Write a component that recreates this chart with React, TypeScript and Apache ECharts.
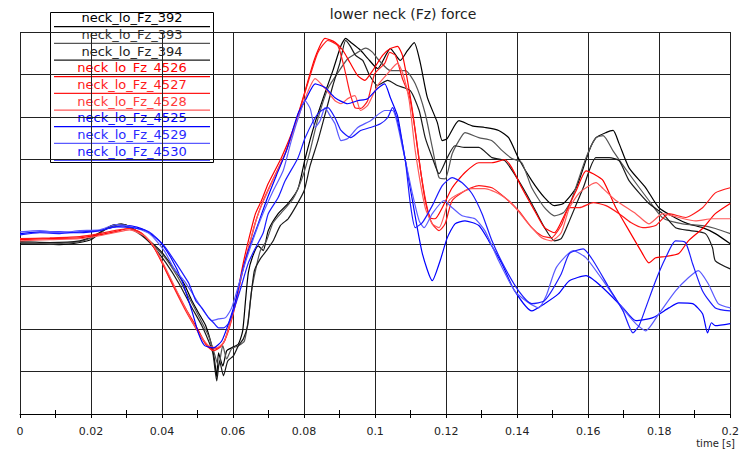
import React, { useEffect, useRef } from "react";
import * as echarts from "echarts";

// time in ms, lower neck Fz in kN
const neck392: [number, number][] = [
  [0, 0.01], [5.6, 0.01], [11.2, -0.01], [16.8, 0.04], [20.1, 0.11], [22.9, 0.29], [26.6, 0.46], [29.4, 0.46],
  [32.2, 0.34], [36.4, 0.08], [40.0, -0.2], [43.4, -0.58], [46.2, -0.93], [48.4, -1.33], [50.3, -1.62],
  [52.3, -1.92], [54.0, -2.39], [54.8, -2.75], [55.4, -3.12], [55.9, -2.56], [57.1, -2.87], [58.2, -2.51],
  [59.6, -2.44], [61.5, -2.35], [62.7, -2.04], [63.5, -1.33], [64.3, -0.67], [65.5, -0.29], [67.1, -0.04],
  [68.5, -0.15], [69.9, 0.32], [72.7, 0.72], [75.5, 0.96], [78.3, 1.31], [80.3, 2.02], [83.1, 2.87],
  [85.9, 3.57], [88.1, 4.09], [90.4, 4.68], [91.7, 4.85], [93.1, 4.76], [95.9, 4.57], [97.9, 4.38],
  [100.7, 4.14], [104.3, 4.61], [107.1, 4.33], [109.1, 4.56], [111.0, 4.75], [112.7, 4.28], [114.7, 3.46],
  [117.5, 2.87], [118.9, 2.44], [120.3, 2.49], [123.6, 2.91], [127.3, 2.79], [130.9, 2.75], [134.8, 2.68],
  [137.6, 2.51], [140.4, 2.02], [144.1, 1.5], [147.7, 1.1], [150.5, 0.91], [153.0, 0.96], [156.6, 1.33],
  [160.3, 2.21], [162.2, 2.51], [165.0, 2.63], [167.0, 2.68], [168.7, 2.37], [171.5, 1.8], [176.2, 1.33],
  [179.9, 0.86], [184.6, 0.62], [188.2, 0.48], [192.2, 0.39], [195.8, 0.25], [200.0, 0.01],
];

const neck393: [number, number][] = [
  [0, 0.04], [8.4, 0.01], [16.8, 0.06], [21.0, 0.18], [24.6, 0.37], [28.0, 0.46], [32.2, 0.32], [36.4, 0.06],
  [40.6, -0.29], [44.2, -0.74], [47.6, -1.26], [50.3, -1.69], [53.1, -2.16], [54.5, -2.51], [55.9, -2.87],
  [57.1, -2.39], [58.2, -2.7], [59.6, -2.46], [61.5, -2.39], [63.2, -2.28], [64.3, -1.76], [65.2, -1.1],
  [66.6, -0.51], [67.7, -0.15], [69.4, 0.08], [71.3, 0.51], [74.1, 0.79], [76.9, 1.07], [79.7, 1.62],
  [81.7, 2.2], [83.9, 2.96], [86.7, 3.67], [89.5, 4.04], [92.3, 4.37], [95.1, 4.52], [97.3, 4.62],
  [99.3, 4.52], [100.7, 4.37], [104.3, 4.09], [108.5, 4.09], [111.3, 3.78], [114.1, 3.08], [116.1, 2.28],
  [118.0, 1.57], [119.7, 1.54], [121.7, 2.13], [123.6, 2.44], [125.3, 2.63], [129.2, 2.51], [132.9, 2.44],
  [135.7, 2.21], [138.5, 2.02], [141.3, 1.92], [144.1, 1.33], [147.7, 0.86], [150.5, 0.67], [153.0, 0.74],
  [155.2, 1.03], [159.4, 2.04], [162.2, 2.51], [164.2, 2.56], [167.0, 2.2], [171.5, 1.66], [177.1, 1.03],
  [181.0, 0.62], [186.6, 0.48], [192.2, 0.44], [195.8, 0.37], [200.0, 0.25],
];

const neck394: [number, number][] = [
  [0, 0.06], [8.4, 0.04], [16.8, 0.08], [21.3, 0.22], [25.2, 0.41], [28.5, 0.48], [32.7, 0.32], [36.9, 0.01],
  [41.1, -0.44], [44.8, -0.93], [48.1, -1.45], [51.2, -1.92], [53.1, -2.28], [54.3, -2.56], [55.4, -3.22],
  [56.2, -2.75], [57.3, -3.1], [58.5, -2.75], [60.1, -2.63], [61.5, -2.39], [62.9, -2.23], [64.1, -1.92],
  [64.9, -1.33], [66.0, -0.62], [67.7, -0.34], [69.4, -0.15], [71.3, 0.08], [73.3, 0.44], [75.5, 0.6],
  [77.8, 0.91], [80.0, 1.26], [81.7, 1.85], [83.9, 2.44], [86.2, 3.15], [88.1, 3.74], [90.1, 4.28],
  [91.7, 4.8], [92.9, 4.68], [94.5, 4.45], [96.5, 4.33], [98.5, 3.97], [100.7, 3.74], [103.5, 3.86],
  [106.3, 3.74], [109.9, 3.62], [112.4, 3.15], [114.1, 2.51], [116.1, 2.04], [118.0, 1.66], [120.3, 2.04],
  [122.5, 2.32], [125.3, 2.28], [129.2, 2.28], [132.9, 2.04], [136.5, 1.97], [140.4, 1.5], [144.1, 0.96],
  [147.7, 0.39], [150.5, 0.08], [152.4, 0.13], [154.7, 0.55], [158.6, 1.33], [162.2, 2.04], [165.9, 2.04],
  [168.7, 1.97], [171.5, 1.5], [177.1, 0.96], [181.0, 0.72], [184.6, 0.39], [188.8, 0.32], [193.0, 0.25],
  [195.0, -0.08], [195.8, -0.39], [200.0, -0.58],
];

const neck4526: [number, number][] = [
  [0, 0.11], [8.4, 0.13], [16.8, 0.15], [22.4, 0.22], [26.6, 0.29], [30.8, 0.37], [33.6, 0.29], [36.4, 0.08],
  [39.2, -0.29], [42.8, -0.91], [46.7, -1.52], [50.3, -2.04], [52.3, -2.35], [54.0, -2.47], [55.9, -2.44],
  [57.6, -2.28], [59.3, -1.8], [61.0, -1.26], [62.7, -0.51], [64.3, 0.08], [66.3, 0.72], [68.0, 1.03],
  [69.9, 1.43], [73.6, 2.04], [77.5, 2.84], [80.3, 3.62], [83.1, 4.4], [85.9, 4.85], [88.7, 4.76],
  [90.9, 4.57], [92.9, 4.28], [95.1, 3.97], [97.1, 3.86], [99.3, 4.09], [102.1, 4.45], [104.3, 4.61],
  [106.3, 4.66], [107.7, 4.45], [109.1, 3.86], [110.5, 3.15], [112.4, 1.97], [114.1, 1.03], [115.5, 0.63],
  [116.9, 0.6], [118.9, 0.86], [121.7, 1.33], [125.3, 1.69], [129.2, 1.92], [132.9, 1.92], [136.5, 1.99],
  [138.5, 1.8], [141.3, 1.33], [144.9, 0.79], [147.7, 0.39], [150.5, 0.27], [153.0, 0.63], [156.6, 1.26],
  [159.4, 1.73], [161.4, 1.66], [164.2, 1.5], [167.8, 0.86], [171.5, 0.32], [174.8, -0.15], [177.1, -0.44],
  [179.0, -0.32], [181.8, -0.29], [185.5, -0.22], [188.2, 0.08], [192.2, 0.37], [195.8, 0.72], [200.0, 0.96],
];

const neck4527: [number, number][] = [
  [0, 0.13], [8.4, 0.15], [16.8, 0.18], [22.4, 0.25], [26.6, 0.32], [30.8, 0.37], [34.1, 0.27], [36.9, 0.04],
  [40.0, -0.44], [43.4, -1.03], [47.0, -1.62], [50.3, -2.09], [52.6, -2.39], [54.5, -2.51], [56.5, -2.42],
  [58.2, -2.16], [59.9, -1.69], [61.5, -1.1], [63.2, -0.44], [64.9, 0.08], [66.6, 0.6], [68.5, 1.03],
  [71.3, 1.54], [75.0, 2.2], [78.3, 3.03], [81.1, 3.81], [83.9, 4.52], [86.7, 4.8], [89.5, 4.68],
  [91.5, 4.09], [92.9, 3.57], [94.3, 3.22], [95.9, 3.2], [97.9, 3.38], [99.9, 4.02], [102.7, 4.26],
  [104.1, 4.52], [105.7, 4.45], [107.7, 3.9], [109.6, 3.5], [111.3, 2.68], [113.0, 1.62], [114.7, 0.84],
  [116.1, 0.48], [118.0, 0.32], [119.7, 0.48], [121.7, 1.03], [125.3, 1.26], [129.2, 1.38], [132.9, 1.33],
  [136.5, 1.1], [140.4, 0.79], [144.1, 0.39], [146.9, 0.2], [149.6, 0.15], [152.4, 0.44], [154.7, 0.86],
  [157.5, 0.86], [161.4, 0.98], [165.0, 0.91], [168.7, 0.72], [172.0, 0.51], [175.4, 0.39], [179.0, 0.44],
  [182.7, 0.72], [187.4, 0.63], [192.2, 0.86], [195.8, 1.21], [200.0, 1.33],
];

const neck4528: [number, number][] = [
  [0, 0.08], [8.4, 0.11], [16.8, 0.13], [22.4, 0.2], [26.6, 0.27], [30.8, 0.34], [35.0, 0.2], [37.8, -0.06],
  [41.1, -0.58], [44.8, -1.21], [48.1, -1.76], [50.9, -2.16], [53.1, -2.39], [55.4, -2.44], [57.3, -2.32],
  [59.0, -1.92], [60.7, -1.4], [62.4, -0.74], [64.3, -0.11], [66.0, 0.44], [68.0, 0.91], [70.5, 1.38],
  [74.1, 2.02], [77.8, 2.87], [80.6, 3.5], [83.1, 3.9], [85.9, 3.67], [88.7, 3.38], [90.4, 3.31],
  [92.3, 3.43], [94.3, 3.5], [95.9, 3.15], [97.9, 3.27], [100.7, 3.74], [103.5, 4.02], [106.3, 4.26],
  [108.0, 3.97], [109.6, 3.38], [111.3, 2.2], [114.1, 0.86], [116.1, 0.48], [118.0, 0.39], [120.8, 1.03],
  [123.6, 1.19], [127.3, 1.31], [130.9, 1.31], [134.8, 1.19], [138.5, 0.96], [143.2, 0.48], [146.9, 0.15],
  [149.6, 0.08], [152.4, 0.27], [154.7, 0.86], [157.5, 1.21], [160.3, 1.38], [162.2, 1.45], [164.2, 1.31],
  [167.8, 1.03], [173.4, 0.72], [177.1, 0.48], [181.0, 0.72], [185.5, 0.63], [190.2, 0.55], [195.0, 0.6],
  [200.0, 0.6],
];

const neck4525: [number, number][] = [
  [0, 0.25], [5.6, 0.29], [11.2, 0.29], [16.8, 0.27], [22.4, 0.32], [26.6, 0.41], [30.8, 0.44], [35.0, 0.34],
  [39.2, 0.08], [42.5, -0.32], [45.6, -0.86], [48.4, -1.57], [50.3, -2.11], [52.0, -2.39], [54.5, -2.44],
  [56.8, -2.28], [58.7, -1.87], [60.7, -1.33], [62.4, -0.7], [64.3, -0.15], [66.6, 0.37], [69.4, 1.03],
  [72.2, 1.62], [75.0, 2.2], [78.3, 3.08], [80.6, 3.43], [83.1, 3.78], [85.9, 3.69], [88.7, 3.45],
  [92.3, 3.31], [95.1, 3.38], [97.9, 3.43], [100.7, 3.67], [102.7, 3.78], [104.3, 3.45], [106.3, 3.03],
  [107.7, 2.37], [110.5, 1.03], [113.3, -0.22], [116.1, -0.86], [118.3, -0.39], [120.3, 0.15], [122.5, 0.48],
  [125.3, 0.55], [129.2, 0.44], [132.0, 0.08], [135.7, -0.46], [139.3, -1.1], [144.1, -1.57], [147.7, -1.4],
  [151.6, -1.17], [154.7, -0.86], [159.4, -0.74], [164.2, -1.03], [169.8, -1.5], [173.4, -1.8], [178.2, -1.73],
  [182.7, -1.5], [185.5, -1.38], [189.4, -1.4], [192.2, -1.64], [193.6, -2.09], [194.7, -1.85], [195.8, -1.92],
  [200.0, -1.87],
];

const neck4529: [number, number][] = [
  [0, 0.29], [5.6, 0.32], [11.2, 0.27], [16.8, 0.32], [22.4, 0.34], [27.1, 0.46], [31.6, 0.41], [36.4, 0.25],
  [40.6, -0.15], [43.4, -0.58], [46.2, -0.86], [49.0, -1.22], [51.7, -1.57], [54.0, -1.8], [55.9, -1.76],
  [57.9, -1.73], [59.6, -1.5], [61.5, -0.98], [63.8, -0.34], [66.0, 0.2], [68.5, 0.74], [71.3, 1.26],
  [74.1, 1.73], [76.4, 2.44], [78.3, 2.96], [80.3, 3.38], [81.7, 3.2], [83.1, 2.75], [84.5, 2.91],
  [85.9, 3.22], [87.3, 3.03], [88.7, 2.84], [90.4, 2.44], [92.3, 2.49], [95.1, 2.75], [98.7, 2.91],
  [102.7, 3.15], [104.9, 3.15], [107.7, 2.28], [110.5, 1.19], [112.4, 0.55], [113.8, 0.39], [116.1, 0.72],
  [119.4, 1.03], [121.7, 0.86], [124.5, 0.67], [128.1, 0.6], [130.9, 0.32], [134.8, -0.39], [139.3, -1.1],
  [143.2, -1.38], [146.0, -1.5], [148.2, -1.21], [151.0, -0.55], [155.8, -0.15], [159.4, -0.32], [164.2, -0.86],
  [168.7, -1.4], [173.4, -1.87], [176.2, -2.04], [179.9, -1.64], [184.6, -1.1], [188.2, -0.79], [191.0, -0.62],
  [193.8, -0.93], [196.6, -1.4], [200.0, -1.5],
];

const neck4530: [number, number][] = [
  [0, 0.22], [5.6, 0.27], [11.2, 0.25], [16.8, 0.29], [22.4, 0.32], [27.1, 0.41], [31.6, 0.39], [36.4, 0.29],
  [40.6, -0.04], [43.9, -0.44], [46.2, -0.74], [47.6, -0.93], [49.5, -1.33], [51.2, -1.5], [53.1, -1.73],
  [54.5, -1.85], [55.9, -1.97], [57.3, -1.97], [58.7, -1.87], [60.1, -1.57], [62.1, -1.05], [64.3, -0.44],
  [66.6, -0.04], [68.5, 0.27], [69.9, 0.72], [72.7, 1.1], [74.7, 1.5], [78.3, 2.04], [80.3, 2.51],
  [83.9, 3.08], [86.7, 3.22], [88.7, 2.98], [90.4, 2.68], [93.1, 2.51], [95.9, 2.68], [98.7, 2.75],
  [101.5, 2.84], [103.5, 2.98], [104.9, 3.22], [106.3, 2.91], [108.5, 1.97], [109.9, 0.96], [111.3, 0.39],
  [113.3, 0.51], [116.1, 0.91], [118.9, 1.38], [121.7, 1.57], [124.5, 1.45], [127.3, 1.19], [130.1, 0.72],
  [132.9, 0.08], [136.5, -0.55], [140.4, -1.1], [144.1, -1.4], [147.7, -1.33], [152.4, -0.7], [154.7, -0.22],
  [158.6, -0.11], [161.4, -0.39], [165.9, -1.03], [169.8, -1.57], [172.6, -2.09], [174.3, -1.92], [176.2, -1.5],
  [179.0, -0.86], [181.8, -0.32], [184.6, 0.08], [187.4, 0.04], [189.4, -0.46], [192.2, -1.1], [195.8, -1.5],
  [200.0, -1.57],
];

const seriesNames = [
  "neck_lo_Fz_392", "neck_lo_Fz_393", "neck_lo_Fz_394",
  "neck_lo_Fz_4526", "neck_lo_Fz_4527", "neck_lo_Fz_4528",
  "neck_lo_Fz_4525", "neck_lo_Fz_4529", "neck_lo_Fz_4530",
];
const seriesData = [
  neck392, neck393, neck394,
  neck4526, neck4527, neck4528,
  neck4525, neck4529, neck4530,
];
const lineColors = [
  "#000000", "#555555", "#1a1a1a",
  "#ff0000", "#ff1a1a", "#ff5a5a",
  "#0000ff", "#5a5aff", "#1a1aff",
];
const textColors = [
  "#000000", "#333333", "#222222",
  "#ff0000", "#ff1a1a", "#ff3a3a",
  "#0000ff", "#2a2aff", "#1a1aff",
];

const titleText = "lower neck (Fz) force";
const xAxisName = "time [s]";

const FONT = "'DejaVu Sans', Verdana, sans-serif";

export default function App() {
  const ref = useRef<HTMLDivElement>(null);

  useEffect(() => {
    if (!ref.current) return;
    const chart = echarts.init(ref.current, undefined, { renderer: "svg" });

    // boxed legend: each name centred above a sample of its line
    const legendX = 50;
    const legendY = 12;
    const rowH = 16.67;
    const legendItems: any[] = [
      {
        type: "rect",
        shape: { x: legendX + 0.5, y: legendY + 0.5, width: 163, height: 150 },
        style: { fill: "#ffffff", stroke: "#000000", lineWidth: 1 },
      },
    ];
    seriesNames.forEach((name, i) => {
      legendItems.push({
        type: "text",
        x: 132,
        y: legendY + 5.8 + i * rowH,
        style: {
          text: name,
          fill: textColors[i],
          font: `13px ${FONT}`,
          textAlign: "center",
          textVerticalAlign: "middle",
        },
      });
      legendItems.push({
        type: "line",
        shape: { x1: 54, y1: legendY + 14.7 + i * rowH, x2: 210, y2: legendY + 14.7 + i * rowH },
        style: { stroke: lineColors[i], lineWidth: 1.2 },
      });
    });

    const axisBase = {
      type: "value",
      min: 0,
      max: 0.2,
      interval: 0.02,
      position: "bottom",
    };

    chart.setOption({
      animation: false,
      backgroundColor: "#ffffff",
      grid: { left: 20, right: 7, top: 32, bottom: 39, containLabel: false },
      xAxis: [
        {
          ...axisBase,
          axisLine: { show: true, onZero: false, lineStyle: { color: "#000", width: 1 } },
          axisTick: { show: true, length: 4, lineStyle: { color: "#000" } },
          minorTick: { show: true, splitNumber: 2, length: 4, lineStyle: { color: "#000" } },
          axisLabel: {
            color: "#222",
            fontSize: 11,
            fontFamily: FONT,
            margin: 12,
            formatter: (v: number) => String(Math.round(v * 100) / 100),
          },
          splitLine: { show: true, lineStyle: { color: "#222", width: 1 } },
        },
        {
          // inward half of the minor ticks, so they cross the axis line
          ...axisBase,
          axisLine: { show: false, onZero: false },
          axisTick: { show: false, inside: true },
          minorTick: { show: true, splitNumber: 2, length: 4, lineStyle: { color: "#000" } },
          axisLabel: { show: false },
          splitLine: { show: false },
        },
      ],
      yAxis: {
        type: "value",
        min: -4,
        max: 5,
        interval: 1,
        axisLine: { show: false },
        axisTick: { show: false },
        axisLabel: { show: false },
        splitLine: { show: true, lineStyle: { color: "#222", width: 1 } },
      },
      series: seriesNames.map((name, i) => ({
        name,
        type: "line",
        xAxisIndex: 0,
        showSymbol: false,
        symbol: "none",
        smooth: 0.2,
        data: seriesData[i].map(([ms, f]) => [ms / 1000, f]),
        lineStyle: { color: lineColors[i], width: 1.2 },
        z: 3,
      })),
      graphic: [
        {
          type: "text",
          x: 403,
          y: 14,
          style: {
            text: titleText,
            fill: "#222",
            font: `14px ${FONT}`,
            textAlign: "center",
            textVerticalAlign: "middle",
          },
        },
        {
          type: "text",
          x: 735,
          y: 443,
          style: {
            text: xAxisName,
            fill: "#222",
            font: `10px ${FONT}`,
            textAlign: "right",
            textVerticalAlign: "middle",
          },
        },
        { type: "group", z: 100, children: legendItems },
      ],
    });

    return () => chart.dispose();
  }, []);

  return (
    <div
      ref={ref}
      style={{ position: "fixed", left: 0, top: 0, width: 742, height: 453, background: "#fff" }}
    />
  );
}
